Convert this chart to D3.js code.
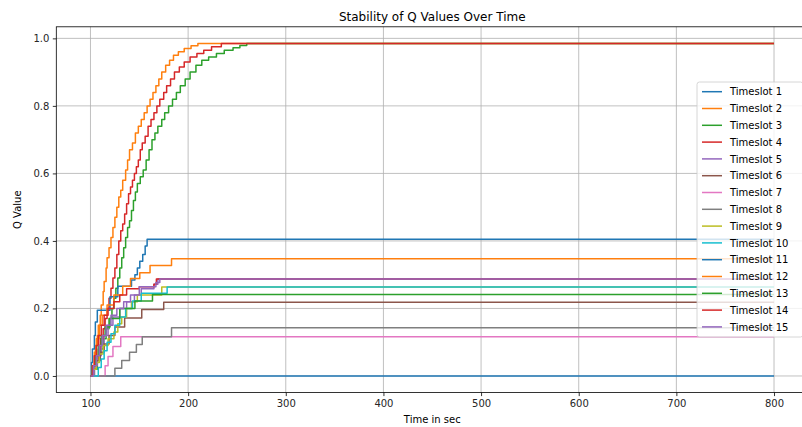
<!DOCTYPE html>
<html>
<head>
<meta charset="utf-8">
<script src="https://cdn.jsdelivr.net/npm/d3@7"></script>
<style>
  html, body { margin: 0; padding: 0; background: #fff; }
  svg { display: block; font-family: "DejaVu Sans", sans-serif; }
</style>
</head>
<body>
<svg id="chart" width="802" height="427"></svg>
<script>
// Q value of each timeslot as a step function: [time (s), Q value] at every change.
const ts1  = [[100, 0]];
const ts2  = [[100,0],[102,0.03],[104,0.06],[105,0.09],[107,0.12],[108,0.15],[110,0.18],[111,0.21],[113,0.25],[114,0.28],[116,0.32],[117,0.35],[119,0.38],[121,0.41],[123,0.44],[125,0.47],[127,0.50],[129,0.53],[131,0.55],[133,0.58],[136,0.61],[138,0.64],[140,0.67],[143,0.69],[146,0.72],[149,0.74],[152,0.76],[155,0.78],[158,0.80],[161,0.82],[164,0.84],[167,0.86],[170,0.88],[173,0.90],[177,0.92],[181,0.935],[185,0.95],[190,0.96],[196,0.97],[203,0.978],[210,0.985]];
const ts3  = [[100,0],[104,0.02],[107,0.05],[110,0.08],[113,0.11],[116,0.14],[119,0.17],[122,0.2],[124,0.23],[126,0.26],[128,0.29],[130,0.32],[132,0.35],[134,0.38],[136,0.41],[138,0.44],[140,0.46],[142,0.49],[144,0.52],[146,0.545],[148,0.57],[151,0.59],[154,0.61],[157,0.64],[160,0.67],[163,0.70],[166,0.72],[169,0.74],[173,0.76],[176,0.78],[180,0.80],[184,0.82],[188,0.84],[192,0.86],[197,0.88],[202,0.90],[208,0.92],[214,0.935],[221,0.945],[229,0.955],[237,0.965],[246,0.972],[253,0.979],[260,0.985]];
const ts4  = [[100,0],[103,0.02],[106,0.05],[108,0.08],[110,0.11],[113,0.14],[115,0.17],[117,0.2],[119,0.23],[121,0.26],[123,0.29],[125,0.32],[127,0.36],[129,0.40],[131,0.43],[133,0.45],[135,0.48],[137,0.51],[139,0.54],[141,0.56],[143,0.58],[145,0.60],[147,0.62],[149,0.64],[151,0.67],[153,0.69],[156,0.71],[159,0.74],[162,0.76],[165,0.78],[168,0.80],[171,0.82],[175,0.84],[178,0.86],[182,0.88],[186,0.90],[191,0.915],[196,0.93],[202,0.945],[209,0.955],[216,0.965],[224,0.975],[234,0.985]];
const ts5  = [[100,0],[104,0.03],[107,0.06],[111,0.09],[114,0.12],[118,0.15],[123,0.175],[130,0.2],[137,0.22],[145,0.24],[152,0.258],[165,0.272],[169,0.287]];
const ts6  = [[100,0],[103,0.02],[106,0.045],[110,0.07],[114,0.095],[119,0.12],[125,0.145],[135,0.172],[152.5,0.197],[175,0.218]];
const ts7  = [[100,0],[115,0.03],[118,0.058],[123,0.087],[131,0.116]];
const ts8  = [[100,0],[125,0.023],[132,0.046],[140,0.07],[147,0.093],[153,0.116],[183,0.143]];
const ts9  = [[100,0],[103,0.02],[106,0.04],[109,0.065],[113,0.09],[118,0.11],[124,0.13],[128,0.155],[132,0.175],[137,0.2],[142,0.22],[148,0.24],[173,0.2635]];
const ts10 = [[100,0],[108,0.025],[111,0.05],[114,0.075],[117,0.1],[121,0.125],[125,0.15],[130,0.175],[136,0.2],[143,0.222],[152,0.245],[178.5,0.2635]];
const ts11 = [[100,0],[101,0.04],[102,0.08],[104,0.12],[105,0.16],[107,0.195],[120,0.235],[128,0.266],[142,0.284],[145.5,0.30],[148,0.32],[150.5,0.34],[153.5,0.36],[156,0.385],[158,0.405]];
const ts12 = [[100,0],[102,0.03],[104,0.07],[106,0.11],[109,0.15],[112,0.18],[117,0.21],[124,0.24],[133,0.266],[141,0.289],[150.5,0.306],[161,0.327],[183,0.347]];
const ts13 = [[100,0],[102,0.03],[105,0.06],[108,0.09],[111,0.12],[115,0.145],[120,0.17],[130,0.2],[145.5,0.222],[163.5,0.241]];
const ts14 = [[100,0],[102,0.03],[104,0.06],[106,0.09],[108,0.12],[111,0.15],[114,0.18],[118,0.2],[124,0.22],[130,0.24],[137,0.258],[150,0.264],[165,0.272],[167.5,0.287]];
const ts15 = [[100,0],[103,0.03],[106,0.06],[109,0.09],[112,0.12],[116,0.15],[121,0.18],[127,0.2],[134,0.22],[141,0.24],[150,0.264],[167,0.277],[171,0.287]];

const seriesData  = [ts1, ts2, ts3, ts4, ts5, ts6, ts7, ts8, ts9, ts10, ts11, ts12, ts13, ts14, ts15];
const seriesNames = seriesData.map((_, i) => "Timeslot " + (i + 1));
const endTime = 800;

const xTicks = [100, 200, 300, 400, 500, 600, 700, 800];
const yTicks = [0.0, 0.2, 0.4, 0.6, 0.8, 1.0];

const palette = ["#1f77b4", "#ff7f0e", "#2ca02c", "#d62728", "#9467bd",
                 "#8c564b", "#e377c2", "#7f7f7f", "#bcbd22", "#17becf"];

const svg = d3.select("#chart");
const plot = { left: 56.3, right: 808.2, top: 26.8, bottom: 392.6 };

const x = d3.scaleLinear().domain([65, 835]).range([plot.left, plot.right]);
const y = d3.scaleLinear().domain([-0.04925, 1.03425]).range([plot.bottom, plot.top]);

svg.append("defs").append("clipPath").attr("id", "plotClip")
  .append("rect")
  .attr("x", plot.left).attr("y", plot.top)
  .attr("width", plot.right - plot.left).attr("height", plot.bottom - plot.top);

// grid
const grid = svg.append("g").attr("stroke", "#b0b0b0").attr("stroke-width", 0.8);
grid.selectAll("line.gx").data(xTicks).join("line")
  .attr("x1", d => x(d)).attr("x2", d => x(d))
  .attr("y1", plot.top).attr("y2", plot.bottom);
grid.selectAll("line.gy").data(yTicks).join("line")
  .attr("x1", plot.left).attr("x2", plot.right)
  .attr("y1", d => y(d)).attr("y2", d => y(d));

// step lines
const line = d3.line()
  .x(d => x(d[0])).y(d => y(d[1]))
  .curve(d3.curveStepAfter);

svg.append("g").attr("clip-path", "url(#plotClip)")
  .selectAll("path").data(seriesData).join("path")
  .attr("fill", "none")
  .attr("stroke", (d, i) => palette[i % palette.length])
  .attr("stroke-width", 1.5)
  .attr("stroke-linejoin", "round")
  .attr("d", d => line(d.concat([[endTime, d[d.length - 1][1]]])));

// axes
const xAxis = d3.axisBottom(x).tickValues(xTicks).tickSize(3.5).tickPadding(3.5).tickFormat(d3.format("d"));
const yAxis = d3.axisLeft(y).tickValues(yTicks).tickSize(3.5).tickPadding(3.5).tickFormat(d3.format(".1f"));

const gx = svg.append("g").attr("transform", `translate(0,${plot.bottom})`).call(xAxis);
const gy = svg.append("g").attr("transform", `translate(${plot.left},0)`).call(yAxis);
[gx, gy].forEach(g => {
  g.select(".domain").remove();
  g.selectAll(".tick line").attr("stroke", "#000").attr("stroke-width", 0.8);
  g.selectAll(".tick text").attr("fill", "#262626").attr("font-size", 10)
    .attr("font-family", "DejaVu Sans, sans-serif");
});

// spines
svg.append("rect")
  .attr("x", plot.left).attr("y", plot.top)
  .attr("width", plot.right - plot.left).attr("height", plot.bottom - plot.top)
  .attr("fill", "none").attr("stroke", "#000").attr("stroke-width", 0.8);

// titles
svg.append("text").attr("x", (plot.left + plot.right) / 2).attr("y", 20.5)
  .attr("text-anchor", "middle").attr("font-size", 12).attr("fill", "#000")
  .text("Stability of Q Values Over Time");
svg.append("text").attr("x", (plot.left + plot.right) / 2).attr("y", 423)
  .attr("text-anchor", "middle").attr("font-size", 10).attr("fill", "#000")
  .text("Time in sec");
svg.append("text")
  .attr("transform", `translate(21,${(plot.top + plot.bottom) / 2}) rotate(-90)`)
  .attr("text-anchor", "middle").attr("font-size", 10).attr("fill", "#000")
  .text("Q Value");

// legend (center right)
const rowH = 16.8;
const legend = svg.append("g");
const legTop = 82, legLeft = 697, legRight = 803;
const legBottom = legTop + rowH * seriesNames.length + 3;
legend.append("rect")
  .attr("x", legLeft).attr("y", legTop)
  .attr("width", legRight - legLeft).attr("height", legBottom - legTop)
  .attr("rx", 2.5).attr("fill", "#fff").attr("fill-opacity", 0.8)
  .attr("stroke", "#cccccc").attr("stroke-width", 0.8);
const rows = legend.selectAll("g.row").data(seriesNames).join("g")
  .attr("transform", (d, i) => `translate(0,${legTop + 9.7 + i * rowH})`);
rows.append("line")
  .attr("x1", 702).attr("x2", 722).attr("y1", 0).attr("y2", 0)
  .attr("stroke", (d, i) => palette[i % palette.length]).attr("stroke-width", 1.5);
rows.append("text")
  .attr("x", 730).attr("y", 3.6).attr("font-size", 10).attr("fill", "#000")
  .text(d => d);
</script>
</body>
</html>
